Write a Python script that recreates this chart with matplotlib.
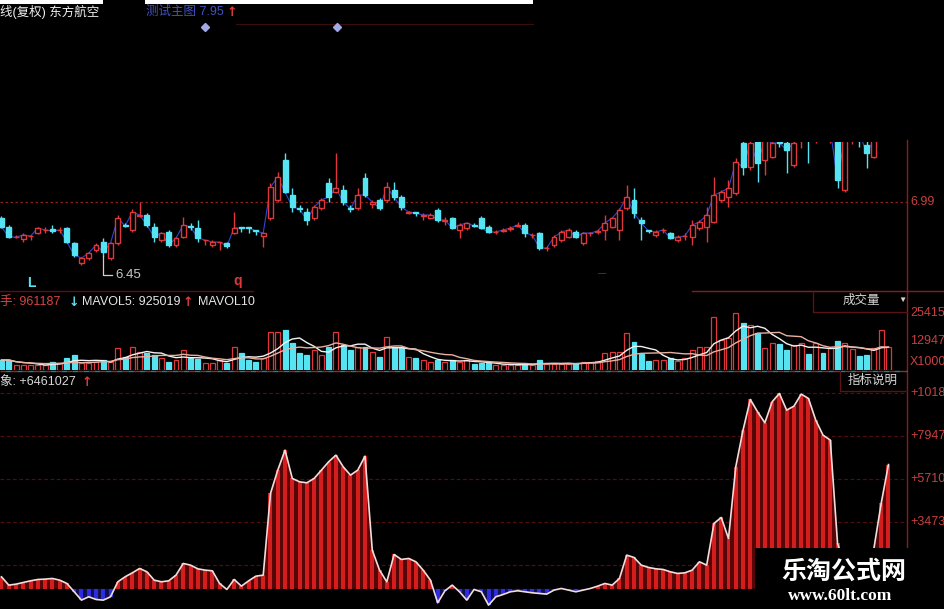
import numpy as np
import pandas as pd
import matplotlib
matplotlib.use("Agg")
import matplotlib.pyplot as plt
import matplotlib.transforms as mtransforms
from matplotlib.patches import Rectangle

plt.rcParams['font.family'] = ['Liberation Sans', 'Noto Sans CJK SC', 'DejaVu Sans']

# ---------------- data ----------------
stock_title = "线(复权) 东方航空"
main_title = "测试主图 7.95"
opens = [6.83, 6.74, 6.64, 6.62, 6.65, 6.68, 6.71, 6.72, 6.71, 6.73,
         6.58, 6.38, 6.43, 6.51, 6.59, 6.43, 6.58, 6.76, 6.71, 6.85,
         6.86, 6.74, 6.61, 6.69, 6.56, 6.64, 6.75, 6.73, 6.61, 6.56,
         6.59, 6.58, 6.68, 6.74, 6.74, 6.71, 6.65, 6.83, 7.01, 7.41,
         7.06, 6.93, 6.89, 6.83, 6.93, 7.18, 7.09, 7.11, 6.93, 6.93,
         7.23, 6.97, 7.01, 7.01, 7.11, 7.04, 6.88, 6.89, 6.85, 6.83,
         6.91, 6.80, 6.83, 6.71, 6.73, 6.76, 6.83, 6.74, 6.69, 6.70,
         6.72, 6.75, 6.76, 6.66, 6.68, 6.53, 6.56, 6.61, 6.64, 6.69,
         6.58, 6.68, 6.69, 6.71, 6.74, 6.71, 6.93, 7.01, 6.81, 6.71,
         6.66, 6.71, 6.68, 6.61, 6.65, 6.64, 6.73, 6.74, 6.79, 7.01,
         7.04, 7.08, 7.58, 7.34, 7.63, 7.41, 7.44, 7.61, 7.58, 7.36,
         7.64, 7.71, 7.68, 7.71, 7.68, 7.68, 7.11, 7.71, 7.71, 7.56,
         7.44, 7.68, 7.88]
highs = [6.85, 6.76, 6.66, 6.68, 6.66, 6.74, 6.74, 6.76, 6.74, 6.74,
         6.59, 6.44, 6.49, 6.58, 6.63, 6.59, 6.86, 6.78, 6.92, 6.99,
         6.88, 6.78, 6.69, 6.71, 6.64, 6.84, 6.78, 6.81, 6.61, 6.61,
         6.59, 6.59, 6.89, 6.74, 6.74, 6.71, 6.69, 7.18, 7.29, 7.48,
         7.13, 6.96, 6.93, 6.96, 7.03, 7.23, 7.48, 7.16, 6.96, 7.13,
         7.28, 7.01, 7.03, 7.19, 7.19, 7.06, 6.90, 6.89, 6.88, 6.88,
         6.93, 6.84, 6.84, 6.78, 6.79, 6.78, 6.85, 6.76, 6.71, 6.73,
         6.75, 6.79, 6.78, 6.68, 6.69, 6.55, 6.66, 6.71, 6.73, 6.71,
         6.69, 6.69, 6.72, 6.86, 6.84, 6.93, 7.16, 7.13, 6.84, 6.71,
         6.71, 6.73, 6.69, 6.66, 6.68, 6.81, 6.81, 6.94, 7.24, 7.11,
         7.21, 7.43, 7.61, 7.64, 7.68, 7.64, 7.64, 7.68, 7.64, 7.64,
         7.71, 7.74, 7.78, 7.81, 7.78, 7.71, 7.68, 7.78, 7.74, 7.60,
         7.64, 7.96, 7.98]
lows = [6.73, 6.63, 6.63, 6.59, 6.61, 6.67, 6.68, 6.68, 6.68, 6.58,
        6.44, 6.36, 6.41, 6.49, 6.45, 6.41, 6.56, 6.74, 6.69, 6.84,
        6.74, 6.59, 6.59, 6.54, 6.54, 6.63, 6.71, 6.59, 6.56, 6.54,
        6.51, 6.53, 6.67, 6.69, 6.68, 6.66, 6.54, 6.81, 6.99, 7.08,
        6.89, 6.89, 6.76, 6.81, 6.91, 6.99, 7.08, 6.96, 6.89, 6.91,
        7.04, 6.93, 6.91, 6.99, 7.01, 6.91, 6.87, 6.85, 6.81, 6.82,
        6.79, 6.76, 6.72, 6.63, 6.71, 6.74, 6.72, 6.68, 6.67, 6.69,
        6.70, 6.74, 6.64, 6.63, 6.51, 6.50, 6.54, 6.59, 6.63, 6.63,
        6.56, 6.65, 6.67, 6.61, 6.73, 6.61, 6.91, 6.83, 6.61, 6.68,
        6.64, 6.68, 6.62, 6.59, 6.61, 6.56, 6.71, 6.59, 6.78, 6.99,
        6.94, 7.06, 7.26, 7.31, 7.19, 7.26, 7.43, 7.54, 7.28, 7.34,
        7.53, 7.38, 7.58, 7.64, 7.58, 7.13, 7.09, 7.57, 7.54, 7.33,
        7.43, 7.64, 7.81]
closes = [6.74, 6.64, 6.64, 6.66, 6.65, 6.73, 6.71, 6.70, 6.71, 6.59,
          6.46, 6.43, 6.48, 6.56, 6.49, 6.58, 6.83, 6.75, 6.89, 6.86,
          6.76, 6.64, 6.68, 6.56, 6.63, 6.76, 6.74, 6.63, 6.61, 6.59,
          6.59, 6.55, 6.73, 6.73, 6.73, 6.70, 6.68, 7.14, 7.24, 7.09,
          6.94, 6.92, 6.81, 6.94, 7.01, 7.04, 7.13, 6.99, 6.92, 7.06,
          7.06, 6.99, 6.93, 7.14, 7.04, 6.94, 6.89, 6.88, 6.86, 6.86,
          6.81, 6.81, 6.73, 6.76, 6.78, 6.75, 6.73, 6.69, 6.69, 6.71,
          6.73, 6.76, 6.68, 6.66, 6.53, 6.53, 6.64, 6.69, 6.71, 6.64,
          6.68, 6.68, 6.70, 6.78, 6.83, 6.91, 7.04, 6.88, 6.78, 6.70,
          6.69, 6.71, 6.63, 6.64, 6.65, 6.76, 6.79, 6.86, 7.06, 7.09,
          7.13, 7.39, 7.34, 7.58, 7.38, 7.61, 7.58, 7.58, 7.51, 7.58,
          7.68, 7.68, 7.71, 7.68, 7.71, 7.21, 7.64, 7.74, 7.68, 7.48,
          7.61, 7.91, 7.95]
volumes = [4450, 4450, 2200, 2200, 2300, 2200, 2100, 3700, 3000, 5200,
           6700, 3000, 2900, 3700, 4400, 3700, 9600, 5900, 10100, 8200,
           7400, 6700, 5200, 3700, 4400, 8900, 5200, 5100, 3000, 2900,
           4500, 3000, 10100, 7400, 4400, 3700, 5200, 17000, 17100, 17800,
           11900, 7400, 6700, 8900, 6600, 10100, 17000, 11100, 8900, 10400,
           10100, 8200, 5900, 14800, 10400, 10300, 5900, 5200, 4500, 3700,
           4400, 3700, 4500, 3700, 4400, 2700, 3000, 2900, 2200, 2200,
           2300, 2200, 3000, 2200, 4400, 2700, 2600, 2700, 2700, 3300,
           3700, 3700, 3800, 7400, 8200, 8100, 16300, 12600, 7100, 4200,
           4400, 4500, 5200, 4100, 5200, 8900, 10400, 10300, 23700, 13300,
           14100, 25500, 21100, 20000, 16600, 9600, 11900, 11600, 8900, 11100,
           11900, 7100, 11800, 7400, 9600, 13000, 11900, 9200, 6200, 6700,
           9600, 17800, 10400]
indicator = [624, 190, 243, 330, 416, 486, 503, 538, 451, 277,
             -156, -590, -416, -555, -590, -416, 364, 624, 832, 1058,
             884, 451, 364, 416, 711, 1318, 1231, 1040, 971, 936,
             277, -35, 486, 139, 416, 659, 711, 4960, 6173, 7213,
             5740, 5566, 5514, 5740, 6173, 6607, 6953, 6346, 5913, 6173,
             6901, 2011, 971, 364, 1786, 1526, 1578, 1405, 971, 451,
             -728, -104, 191, -156, -590, -35, -156, -850, -416, -295,
             -156, -104, -156, -208, -243, -277, -69, 17, -69, -156,
             -69, 17, 139, 277, 191, 538, 1751, 1630, 1231, 1110,
             1040, 1006, 884, 798, 832, 971, 1405, 1231, 3399, 3711,
             2618, 6346, 8254, 9849, 9208, 8635, 9728, 10161, 9294, 9502,
             10127, 9901, 8774, 7994, 7734, 2358, 1200, 500, 300, 1000,
             2100, 4439, 6461]
price_ref = 6.99
low_mark = 6.45
vol_ticks = [25415, 12947]
ind_ticks = [10184, 7947, 5710, 3473, 1236]
ind_tick_labels = ["+1018", "+7947", "+5710", "+3473"]
vol_header = [("手: 961187", '#d84444'), ("MAVOL5: 925019", '#e6e6e6'), ("MAVOL10", '#e6e6e6')]

# ---------------- layout ----------------
W, H = 945, 609
fig = plt.figure(figsize=(W / 100, H / 100), dpi=100, facecolor='black')

def fb(x0, y0, x1, y1):
    return [x0 / W, 1 - y1 / H, (x1 - x0) / W, (y1 - y0) / H]

RED = '#e0383a'
CYAN = '#56e3f2'
AXRED = '#8a1c1c'
LBL = '#c84040'
ARROW = dict(fontsize=9, fontweight='bold', family=['DejaVu Sans'], va='center')

o = np.array(opens); h = np.array(highs); l = np.array(lows); c = np.array(closes)
n = len(c)
idx = np.arange(n)
up = c >= o
STEP, X0 = 7.27, 1.5
xlim = (-X0 / STEP, (907 - X0) / STEP)

# price panel
ax_p = fig.add_axes(fb(0, 142, 907, 290))
ax_p.set_facecolor('black')
ax_p.set_xlim(*xlim)
ax_p.set_ylim(6.11, 7.59)
ax_p.axis('off')
ax_p.axhline(price_ref, color=AXRED, lw=0.9, ls=(0, (2, 2)), zorder=0)
ax_p.plot(idx, c, color='#2c48d0', lw=0.8, zorder=1)
for i in range(n):
    col = RED if up[i] else CYAN
    ax_p.vlines(i, l[i], h[i], color=col, lw=1.0, zorder=2)
    lo, hi = min(o[i], c[i]), max(o[i], c[i])
    ax_p.add_patch(Rectangle((i - 0.34, lo), 0.68, max(hi - lo, 0.002),
                             facecolor='black' if up[i] else col, edgecolor=col,
                             lw=1.0, zorder=3))
imin = 14
ax_p.plot([imin, imin, imin + 1.2], [l[imin], 6.26, 6.26], color='#d0d0d0', lw=0.9, zorder=4)
ax_p.text(imin + 1.6, 6.26, f"{low_mark:.2f}", color='#c8c8c8', fontsize=9.5, va='center')
tp = mtransforms.blended_transform_factory(fig.transFigure, ax_p.transData)
ax_p.text(910 / W, price_ref, f"{price_ref:.2f}", transform=tp, color=LBL, fontsize=9,
          va='center', clip_on=False)

# volume panel
ax_v = fig.add_axes(fb(0, 292, 907, 370))
ax_v.set_facecolor('black')
ax_v.set_xlim(*xlim)
ax_v.set_ylim(0, 34710)
ax_v.axis('off')
vol = np.array(volumes)
ax_v.bar(idx, vol, width=0.68, color=np.where(up, 'black', CYAN),
         edgecolor=np.where(up, RED, CYAN), lw=0.9, zorder=2)
ma5 = pd.Series(vol).rolling(5, min_periods=1).mean()
ma10 = pd.Series(vol).rolling(10, min_periods=1).mean()
ax_v.plot(idx, ma5, color='#f2f2f2', lw=1.0, zorder=3)
ax_v.plot(idx, ma10, color='#e8b0a0', lw=1.0, zorder=3)
tv = mtransforms.blended_transform_factory(fig.transFigure, ax_v.transData)
for v in vol_ticks:
    ax_v.text(910 / W, v, str(v), transform=tv, color=LBL, fontsize=9, va='center', clip_on=False)
fig.text(910 / W, 1 - 362 / H, "X1000", color=LBL, fontsize=9, va='center')

# indicator panel
ax_i = fig.add_axes(fb(0, 372, 907, 609))
ax_i.set_facecolor('black')
ax_i.set_xlim(*xlim)
ax_i.set_ylim(-1051, 11278)
ax_i.axis('off')
ind = np.array(indicator, dtype=float)
for v in ind_ticks:
    ax_i.axhline(v, color='#4e0e0e', lw=0.9, ls=(0, (3, 2)), zorder=0)
ax_i.fill_between(idx, ind, 0, where=ind >= 0, interpolate=True, color='#560606', lw=0, zorder=1)
ax_i.fill_between(idx, ind, 0, where=ind < 0, interpolate=True, color='#10104c', lw=0, zorder=1)
ax_i.bar(idx, ind, width=0.55, color=np.where(ind >= 0, '#d41e1e', '#2c2ce0'), lw=0, zorder=2)
ax_i.plot(idx, ind, color='#f2dcdc', lw=1.2, zorder=3)
ti = mtransforms.blended_transform_factory(fig.transFigure, ax_i.transData)
for v, s in zip(ind_ticks, ind_tick_labels):
    ax_i.text(910 / W, v, s, transform=ti, color=LBL, fontsize=9, va='center', clip_on=False)

# overlay (frames, headers, watermark)
ax_o = fig.add_axes([0, 0, 1, 1], zorder=5)
ax_o.set_xlim(0, W)
ax_o.set_ylim(H, 0)
ax_o.axis('off')
ax_o.patch.set_alpha(0)
ax_o.add_patch(Rectangle((0, 0), 533, 4, color='white', lw=0))
ax_o.add_patch(Rectangle((103, 0), 42, 6, color='black', lw=0))
ax_o.plot([236, 533], [24, 24], color='#3a0c0c', lw=0.8)
ax_o.plot([205, 337], [27, 27], ls='none', marker='D', ms=4.5, color='#a2aae6')
ax_o.plot([907, 907], [140, 609], color=AXRED, lw=1.0)
ax_o.plot([0, 253], [291, 291], color='#5a1010', lw=1.0)
ax_o.plot([692, 945], [291, 291], color=AXRED, lw=1.0)
ax_o.plot([813, 813, 907], [291, 312, 312], color='#5a1212', lw=1.0)
ax_o.plot([0, 907], [371, 371], color='#a02424', ls=(0, (4, 4)), gapcolor='#1a8590', lw=1.0)
ax_o.plot([840, 840, 907], [371, 391, 391], color='#5a1212', lw=1.0)

fig.text(0, 1 - 12 / H, stock_title, color='#f0f0f0', fontsize=9, va='center')
fig.text(146 / W, 1 - 12 / H, main_title, color='#4252c0', fontsize=9, va='center')
fig.text(227 / W, 1 - 12 / H, "↑", color='#e03a3a', **ARROW)

xs = [0, 82, 198]
for (s, col), x in zip(vol_header, xs):
    fig.text(x / W, 1 - 302 / H, s, color=col, fontsize=9, va='center')
fig.text(69 / W, 1 - 302 / H, "↓", color=CYAN, **ARROW)
fig.text(183 / W, 1 - 302 / H, "↑", color='#e03a3a', **ARROW)
fig.text(0, 1 - 382 / H, "象: +6461027", color='#d8d8d8', fontsize=9, va='center')
fig.text(82 / W, 1 - 382 / H, "↑", color='#e03a3a', **ARROW)
fig.text(843 / W, 1 - 301 / H, "成交量", color='#d4d4d4', fontsize=9, va='center')
fig.text(898 / W, 1 - 300 / H, "▼", color='#d4d4d4', fontsize=6, va='center')
fig.text(848 / W, 1 - 381 / H, "指标说明", color='#d8d8d8', fontsize=9, va='center')
fig.text(27 / W, 1 - 283 / H, "L", color=CYAN, fontsize=10, fontweight='bold', va='center')
fig.text(233 / W, 1 - 281 / H, "q", color=RED, fontsize=10, fontweight='bold', va='center')
fig.text(598 / W, 1 - 274 / H, "—", color=RED, fontsize=6, va='center')

ax_o.add_patch(Rectangle((755, 548), 190, 61, color='black', lw=0, zorder=6))
ax_o.text(844, 572, "乐淘公式网", color='white', fontsize=18, fontweight='bold',
          family=['Noto Sans CJK SC'], ha='center', va='center', zorder=7)
ax_o.text(840, 596, "www.60lt.com", color='white', fontsize=12.5, fontweight='bold',
          family=['Liberation Serif', 'DejaVu Serif'], ha='center', va='center', zorder=7)

fig.savefig("out.png", dpi=100, facecolor='black')
